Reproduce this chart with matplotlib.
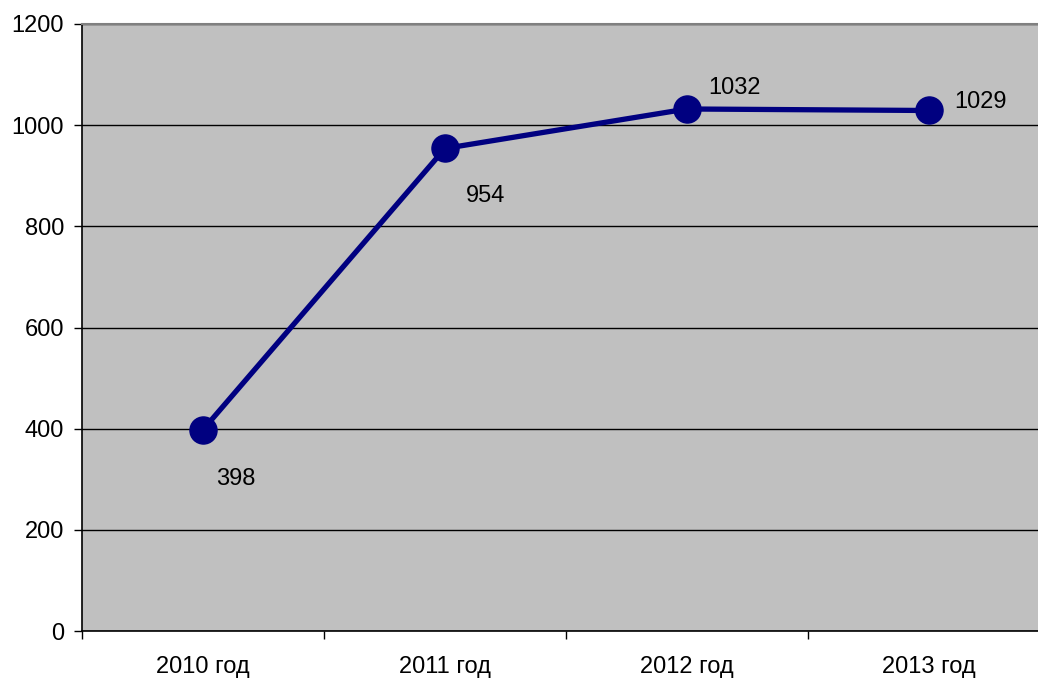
import numpy as np
import matplotlib
matplotlib.use('Agg')
import matplotlib.pyplot as plt
from matplotlib.ticker import FixedLocator

years = ['2010 год', '2011 год', '2012 год', '2013 год']
counts = [398, 954, 1032, 1029]
# label offsets from each point, in pixels (x right, y up)
label_dx = [33, 41, 47, 51]
label_dy = [-49, -48, 21, 8]

plt.rcParams['font.family'] = ['Liberation Sans', 'DejaVu Sans']

fig = plt.figure(figsize=(10.38, 6.79), dpi=100)
# the plot area runs a little past the right edge of the canvas
ax = fig.add_axes([82 / 1038, 48 / 679, 968 / 1038, 607 / 679])
ax.set_facecolor('#c0c0c0')

x = np.arange(len(years))
ax.plot(x, counts, color='#000080', lw=3.8, marker='o', ms=19.5,
        mfc='#000080', mec='#000080', zorder=3, clip_on=False)

for xi, v, dx, dy in zip(x, counts, label_dx, label_dy):
    ax.annotate(str(v), (xi, v), xytext=(dx, dy), textcoords='offset pixels',
                ha='center', va='center', fontsize=17, color='black')

ax.set_xlim(-0.5, len(years) - 0.5)
ax.set_ylim(0, 1200)
ax.set_yticks(np.arange(0, 1201, 200))
ax.yaxis.grid(True, color='black', lw=1)
ax.set_axisbelow(True)

ax.set_xticks(x)
ax.set_xticklabels(years, fontsize=17)
ax.xaxis.set_minor_locator(FixedLocator(np.arange(-0.5, len(years), 1.0)))
ax.tick_params(axis='x', which='major', length=0, pad=18)
ax.tick_params(axis='x', which='minor', length=6, width=1, direction='out', color='black')
ax.tick_params(axis='y', length=6, width=1, direction='out', labelsize=17, pad=7)

for side in ['left', 'bottom']:
    ax.spines[side].set_color('black')
    ax.spines[side].set_linewidth(1.2)
ax.spines['top'].set_color('#808080')
ax.spines['top'].set_linewidth(1.5)
ax.spines['right'].set_visible(False)

fig.savefig('out.png', dpi=100)
